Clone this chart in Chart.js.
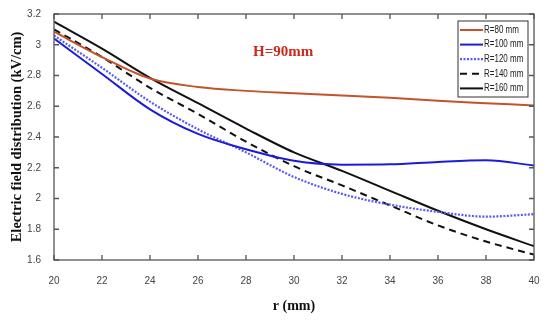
<!DOCTYPE html>
<html>
<head>
<meta charset="utf-8">
<script src="https://cdn.jsdelivr.net/npm/chart.js@4"></script>
<style>
  html, body { margin: 0; padding: 0; background: #fff; }
  #wrap { width: 550px; height: 323px; }
</style>
</head>
<body>
<div id="wrap"><canvas id="efield" width="550" height="323"></canvas></div>
<script>
// r (mm) sample points
const r = [20, 22, 24, 26, 28, 30, 32, 34, 36, 38, 40];
const seriesLabels = ['R=80 mm', 'R=100 mm', 'R=120 mm', 'R=140 mm', 'R=160 mm'];
// electric field (kV/cm)
const r80  = [3.085, 2.92, 2.78, 2.725, 2.70, 2.685, 2.67, 2.655, 2.635, 2.62, 2.605];
const r100 = [3.04, 2.81, 2.58, 2.42, 2.32, 2.245, 2.22, 2.222, 2.238, 2.248, 2.215];
const r120 = [3.06, 2.85, 2.63, 2.45, 2.30, 2.14, 2.03, 1.96, 1.913, 1.882, 1.898];
const r140 = [3.10, 2.92, 2.72, 2.55, 2.37, 2.21, 2.085, 1.955, 1.825, 1.72, 1.635];
const r160 = [3.15, 2.975, 2.785, 2.62, 2.455, 2.30, 2.18, 2.05, 1.92, 1.80, 1.69];
const xTicks = [20, 22, 24, 26, 28, 30, 32, 34, 36, 38, 40];
const yTicks = [1.6, 1.8, 2, 2.2, 2.4, 2.6, 2.8, 3, 3.2];

const pts = ys => r.map((x, i) => ({ x: x, y: ys[i] }));

const frame = '#555';

// box + inward tick marks
const boxTicks = {
  id: 'boxTicks',
  afterDatasetsDraw(chart) {
    const { ctx, chartArea: a, scales: { x, y } } = chart;
    ctx.save();
    ctx.strokeStyle = frame;
    ctx.lineWidth = 1.3;
    ctx.strokeRect(a.left, a.top, a.right - a.left, a.bottom - a.top);
    ctx.beginPath();
    xTicks.forEach(v => {
      const px = x.getPixelForValue(v);
      ctx.moveTo(px, a.bottom); ctx.lineTo(px, a.bottom - 5);
      ctx.moveTo(px, a.top); ctx.lineTo(px, a.top + 5);
    });
    yTicks.forEach(v => {
      const py = y.getPixelForValue(v);
      ctx.moveTo(a.left, py); ctx.lineTo(a.left + 5, py);
      ctx.moveTo(a.right, py); ctx.lineTo(a.right - 5, py);
    });
    ctx.stroke();
    ctx.restore();
  }
};

// legend box at top right + H label
const innerLegend = {
  id: 'innerLegend',
  afterDraw(chart) {
    const { ctx, chartArea: a } = chart;
    ctx.save();
    const bx = a.right - 76, by = a.top + 7, bw = 70, bh = 76;
    ctx.fillStyle = '#fff';
    ctx.fillRect(bx, by, bw, bh);
    ctx.strokeStyle = '#333';
    ctx.lineWidth = 1;
    ctx.strokeRect(bx, by, bw, bh);
    ctx.textBaseline = 'middle';
    chart.data.datasets.forEach((ds, i) => {
      const ly = by + 9 + i * 14.6;
      ctx.beginPath();
      ctx.strokeStyle = ds.borderColor;
      ctx.lineWidth = ds.borderWidth;
      ctx.setLineDash(ds.borderDash || []);
      ctx.moveTo(bx + 2, ly);
      ctx.lineTo(bx + 25, ly);
      ctx.stroke();
      ctx.setLineDash([]);
      ctx.save();
      ctx.translate(bx + 26, ly);
      ctx.scale(0.8, 1);
      ctx.font = "10px 'Liberation Sans', sans-serif";
      ctx.fillStyle = '#222';
      ctx.fillText(ds.label, 0, 0);
      ctx.restore();
    });
    ctx.font = "bold 15px 'Liberation Serif', serif";
    ctx.fillStyle = '#cc2a1a';
    ctx.textBaseline = 'middle';
    ctx.fillText('H=90mm', 253, 52);
    ctx.restore();
  }
};

new Chart(document.getElementById('efield'), {
  type: 'line',
  data: {
    datasets: [
      { label: seriesLabels[0], data: pts(r80),  borderColor: '#c4532b', borderWidth: 2 },
      { label: seriesLabels[1], data: pts(r100), borderColor: '#1c1cd8', borderWidth: 2 },
      { label: seriesLabels[2], data: pts(r120), borderColor: '#5a5af0', borderWidth: 2.2, borderDash: [2, 1.5] },
      { label: seriesLabels[3], data: pts(r140), borderColor: '#111', borderWidth: 2, borderDash: [7, 5] },
      { label: seriesLabels[4], data: pts(r160), borderColor: '#111', borderWidth: 2 }
    ]
  },
  options: {
    responsive: false,
    animation: false,
    layout: { padding: { top: 14, right: 16, left: 0, bottom: 0 } },
    elements: { point: { radius: 0 }, line: { cubicInterpolationMode: 'monotone', fill: false } },
    plugins: { legend: { display: false }, tooltip: { enabled: false } },
    scales: {
      x: {
        type: 'linear', min: 20, max: 40,
        afterBuildTicks: s => { s.ticks = xTicks.map(v => ({ value: v })); },
        afterFit: s => { s.height = 63; },
        grid: { display: false }, border: { display: false },
        ticks: { color: '#444', padding: 7, maxRotation: 0,
          font: { family: "'Liberation Sans', sans-serif", size: 10 } },
        title: { display: true, text: 'r (mm)', color: '#111', padding: { top: 0, bottom: 8 },
          font: { family: "'Liberation Serif', serif", size: 14, weight: 'bold' } }
      },
      y: {
        min: 1.6, max: 3.2,
        afterBuildTicks: s => { s.ticks = yTicks.map(v => ({ value: v })); },
        afterFit: s => { s.width = 54; },
        grid: { display: false }, border: { display: false },
        ticks: { color: '#444', padding: 5, callback: v => String(+v.toFixed(1)),
          font: { family: "'Liberation Sans', sans-serif", size: 10 } },
        title: { display: true, text: 'Electric field distribution (kV/cm)', color: '#111',
          padding: { top: 9, bottom: 0 },
          font: { family: "'Liberation Serif', serif", size: 14.5, weight: 'bold' } }
      }
    }
  },
  plugins: [boxTicks, innerLegend]
});
</script>
</body>
</html>
